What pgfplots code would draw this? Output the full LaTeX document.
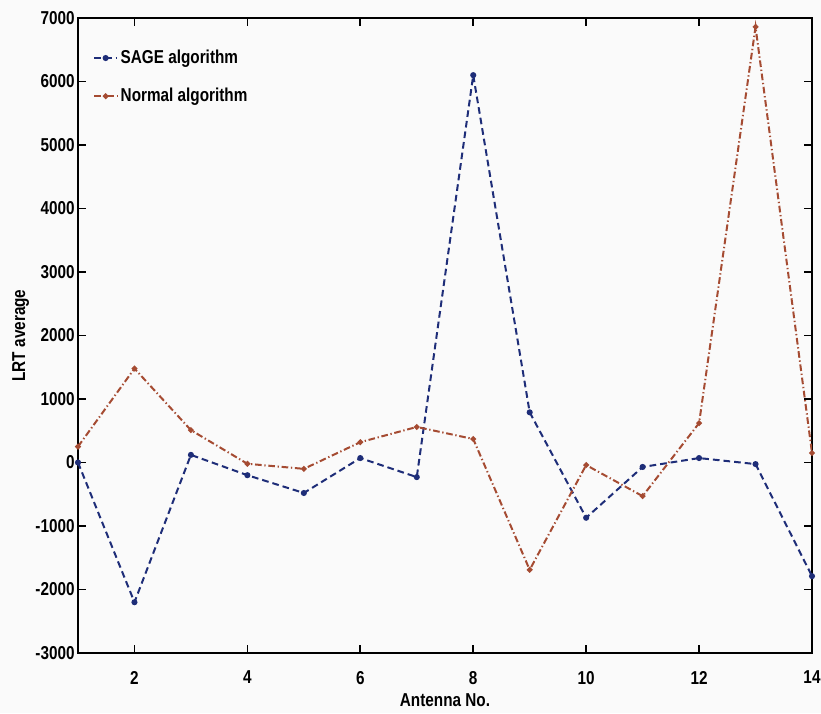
\documentclass[border=0pt]{standalone}
\usepackage{pgfplots}
\pgfplotsset{compat=1.18}
\usepackage{fontspec}
\setmainfont{Liberation Sans}[FakeStretch=0.82]
\usetikzlibrary{backgrounds}
\definecolor{sageblue}{RGB}{30,45,120}
\definecolor{normred}{RGB}{165,75,50}
\begin{document}
\begin{tikzpicture}[x=1pt,y=1pt]
\begin{axis}[
  scale only axis,
  width=550.5pt, height=476.25pt,
  xmin=1, xmax=14, ymin=-3000, ymax=7000,
  xtick={2,4,...,14},
  ytick={-3000,-2000,...,7000},
  tick align=inside,
  major tick length=6pt,
  axis line style={line width=1.4pt},
  every tick/.style={line width=1.3pt, black},
  ticklabel style={font=\bfseries\fontsize{14}{16}\selectfont},
  xticklabel style={yshift=-10pt},
  yticklabel style={/pgf/number format/1000 sep={}, xshift=1pt},
  /pgf/number format/assume math mode=true,
  scaled y ticks=false,
  xlabel={Antenna No.},
  ylabel={LRT average},
  xlabel style={font=\bfseries\fontsize{14}{16}\selectfont, at={(axis description cs:0.5,0)}, anchor=north, yshift=-27pt},
  ylabel style={font=\bfseries\fontsize{14}{16}\selectfont, yshift=-2pt},
  legend style={draw=none, fill=none, at={(0.015,0.958)}, anchor=north west,
    font=\bfseries\fontsize{14}{16}\selectfont, row sep=13pt,
    legend cell align=left},
]
\addplot[sageblue, line width=1.5pt, dash pattern=on 5pt off 3pt, mark=*, mark size=1.5pt,
  mark options={solid}] coordinates {
(1,0) (2,-2200) (3,120) (4,-200) (5,-480) (6,70) (7,-230) (8,6100)
(9,790) (10,-870) (11,-70) (12,70) (13,-25) (14,-1790)};
\addlegendentry{SAGE algorithm}
\addplot[normred, line width=1.5pt, dash pattern=on 5pt off 2pt on 1pt off 2pt, mark=*, mark size=1.3pt,
  mark options={solid}] coordinates {
(1,250) (2,1480) (3,510) (4,-20) (5,-100) (6,320) (7,560) (8,370)
(9,-1690) (10,-40) (11,-530) (12,620) (13,6860) (14,150)};
\addlegendentry{Normal algorithm}
\end{axis}
\pgfresetboundingbox
\path[use as bounding box] (current axis.south west) ++(-58.5pt,-45pt)
  rectangle ([xshift=6.75pt,yshift=13.5pt]current axis.north east);
\begin{scope}[on background layer]
\fill[black!2] (current axis.south west) ++(-58.5pt,-45pt)
  rectangle ([xshift=6.75pt,yshift=13.5pt]current axis.north east);
\end{scope}
\end{tikzpicture}
\end{document}
